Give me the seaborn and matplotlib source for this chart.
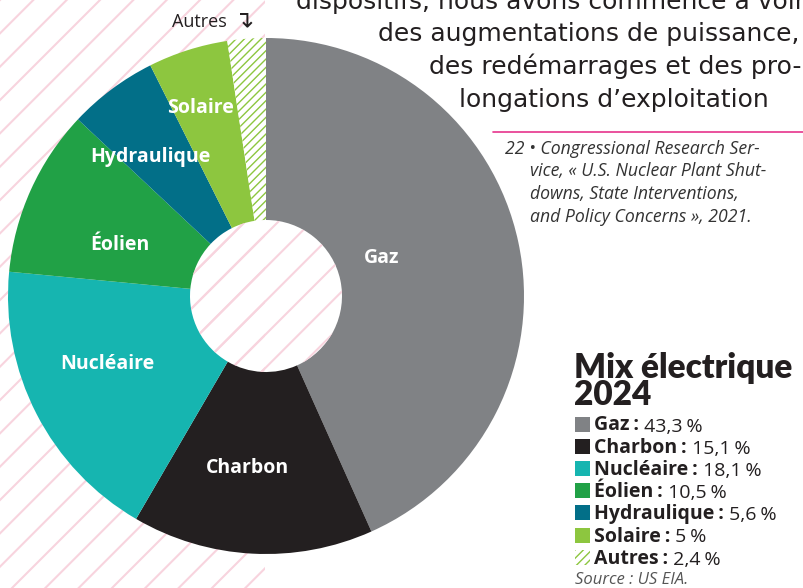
import numpy as np
import matplotlib.pyplot as plt
import seaborn as sns
from matplotlib.patches import Rectangle, Circle

# --- data ---
sources = ["Gaz", "Charbon", "Nucléaire", "Éolien", "Hydraulique", "Solaire", "Autres"]
shares = [43.3, 15.1, 18.1, 10.5, 5.6, 5.0, 2.4]
colors = ["#808285", "#231f20", "#16b5b0", "#21a146", "#026f88", "#8dc63f", "#ffffff"]

title = "Mix électrique\n2024"
source_note = "Source : US EIA."
paragraph = [
    "dispositifs, nous avons commencé à voir",
    "des augmentations de puissance,",
    "des redémarrages et des pro-",
    "longations d\u2019exploitation",
]
footnote = [
    "22 \u2022 Congressional Research Ser-",
    "vice, « U.S. Nuclear Plant Shut-",
    "downs, State Interventions,",
    "and Policy Concerns », 2021.",
]

sns.set_theme(style="white")
plt.rcParams["font.family"] = ["Open Sans", "DejaVu Sans"]
plt.rcParams["hatch.linewidth"] = 1.5

PINK = "#f8d4de"
DARK = "#231f20"

fig = plt.figure(figsize=(8.04, 5.88), dpi=100)
ax = fig.add_axes([0, 0, 1, 1])

# pink hatched background (left strip)
ax.add_patch(Rectangle((0, 0), 265, 588, facecolor="none", edgecolor=PINK,
                       hatch="/", lw=0, zorder=0))

# --- donut ---
cx, cy, R, r_hole = 266, 296, 258, 76
wedges, _ = ax.pie(shares, colors=colors, startangle=-90, counterclock=True,
                   center=(cx, cy), radius=R,
                   wedgeprops=dict(width=R - r_hole, linewidth=0))
ax.set_xlim(0, 804)
ax.set_ylim(588, 0)
ax.set_aspect("equal")
ax.axis("off")

# "Autres" slice: green hatch on white
wedges[-1].set_hatch("////")
wedges[-1].set_edgecolor("#8dc63f")
if hasattr(wedges[-1], "set_hatch_linewidth"):
    wedges[-1].set_hatch_linewidth(1.0)

# hatched hole
ax.add_patch(Circle((cx, cy), r_hole, facecolor="none", edgecolor=PINK,
                    hatch="/", lw=0, zorder=3))

# slice labels
label_r = [0.47, 0.67, 0.67, 0.60, 0.70, 0.77]
label_nudge = [6, -3, -4, 5, 3, 1.5]
for w, name, rf, dn in zip(wedges, sources, label_r, label_nudge):
    mid = np.deg2rad((w.theta1 + w.theta2) / 2 - dn)
    ax.text(cx + rf * R * np.cos(mid), cy + rf * R * np.sin(mid), name,
            color="white", fontsize=14, fontweight="bold",
            ha="center", va="center", zorder=4)

lab = ax.text(172, 27, "Autres", fontsize=13, color=DARK, ha="left", va="baseline")
ax.annotate(" \u21b4", xy=(1, 0), xycoords=lab, fontsize=17, color=DARK,
            ha="left", va="bottom", family="DejaVu Sans")

# --- paragraph text (cut off at the top / right) ---
para_x = [296, 378, 429, 459]
for i, (line, x) in enumerate(zip(paragraph, para_x)):
    ax.text(x, 9 + 32.5 * i, line, fontsize=18, color=DARK, ha="left",
            va="baseline", family="DejaVu Sans")

# --- footnote ---
ax.plot([493, 804], [132, 132], color="#e6348c", lw=1.2)
foot_x = [505, 530, 530, 530]
for i, (line, x) in enumerate(zip(footnote, foot_x)):
    ax.text(x, 154 + 22.5 * i, line, fontsize=12.7, style="italic",
            color="#333333", ha="left", va="baseline")

# --- legend ---
ax.text(574, 405, title, fontsize=24, fontweight="heavy", color=DARK,
        ha="left", va="baseline", linespacing=0.82, family="Lato")

for i, (name, val, col) in enumerate(zip(sources, shares, colors)):
    yc = 424 + 22.2 * i
    sq = Rectangle((575, yc - 7.5), 15, 15, facecolor=col, lw=0)
    if name == "Autres":
        sq.set_edgecolor("#8dc63f")
        sq.set_hatch("////")
        if hasattr(sq, "set_hatch_linewidth"):
            sq.set_hatch_linewidth(1.0)
    ax.add_patch(sq)
    t = ax.text(594, yc + 6.5, f"{name}\u202f:", fontsize=14, fontweight="bold",
                color=DARK, ha="left", va="baseline")
    val_txt = ("%g" % val).replace(".", ",")
    ax.annotate(f" {val_txt}\u202f%", xy=(1, 0), xycoords=t, fontsize=14,
                color=DARK, ha="left", va="bottom")

ax.text(575, 584, source_note, fontsize=12, style="italic", color="#555555",
        ha="left", va="baseline")

fig.savefig("out.png", dpi=100)
